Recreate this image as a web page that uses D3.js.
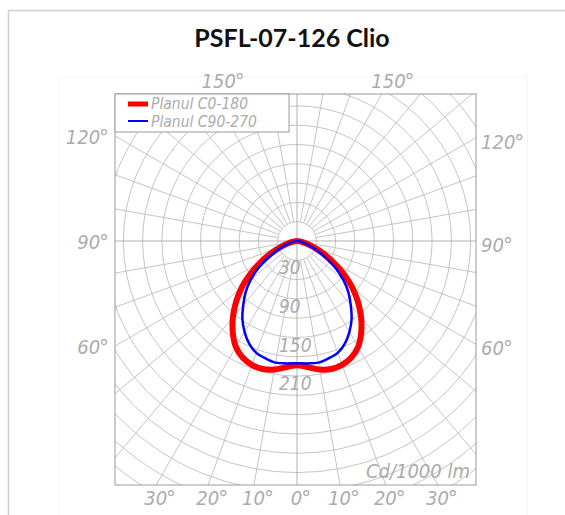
<!DOCTYPE html>
<html>
<head>
<meta charset="utf-8">
<script src="https://cdn.jsdelivr.net/npm/d3@7"></script>
<style>
  html, body { margin: 0; padding: 0; background: #fff; }
  svg { display: block; }
  .cad { font-family: "Liberation Sans Narrow", "DejaVu Sans Condensed", sans-serif; font-style: italic; fill: #ababab; }
</style>
</head>
<body>
<div id="chart"></div>
<script>
// ============================================
// POLAR LIGHT DISTRIBUTION - PSFL-07-126 Clio
// ============================================

// gamma angles (deg from nadir) and intensities (cd/1000 lm)
const gammaDeg = [0, 5, 10, 15, 20, 25, 30, 35, 40, 45, 50, 55, 60, 65, 70, 75, 80, 85, 90];
const c0_180   = [193, 197, 203, 206, 205, 200, 190, 174, 155, 134, 112, 88, 64, 44, 26, 14, 6, 2, 0];
const c90_270  = [190, 191, 192, 189, 185, 176, 163, 148, 130, 113, 94, 73, 50, 33, 20, 11, 5, 2, 0];

const ringLabels = [30, 90, 150, 210];
const bottomTicks = [-30, -20, -10, 0, 10, 20, 30];
const sideTicks = [60, 90, 120];
const topTicks = [150];
const seriesNames = ['Planul C0-180', 'Planul C90-270'];
const seriesColors = ['#ff0000', '#0000ff'];

const width = 565, height = 515;
const cx = 297, cy = 241;
const box = { x0: 115, y0: 94, x1: 476, y1: 485 };

const r = d3.scaleLinear().domain([0, 30]).range([0, 19.3]);
const rings = d3.range(30, 481, 30);
const spokes = d3.range(0, 360, 10);

const svg = d3.select('#chart').append('svg')
    .attr('width', width)
    .attr('height', height);

// card outline
svg.append('rect')
    .attr('x', 8.5).attr('y', 10.5)
    .attr('width', 600).attr('height', 540)
    .attr('fill', 'none')
    .attr('stroke', '#cfcfcf')
    .attr('stroke-width', 1.5);

// faint image frame
svg.append('rect')
    .attr('x', 58.5).attr('y', 76.5)
    .attr('width', 469).attr('height', 460)
    .attr('fill', 'none')
    .attr('stroke', '#f6f6f6');

// title
svg.append('text')
    .attr('x', 292).attr('y', 47)
    .attr('text-anchor', 'middle')
    .style('font-family', 'Lato, "Open Sans", sans-serif')
    .style('font-weight', 700)
    .style('font-size', '25px')
    .style('fill', '#111')
    .text('PSFL-07-126 Clio');

svg.append('defs').append('clipPath').attr('id', 'boxClip')
    .append('rect')
    .attr('x', box.x0).attr('y', box.y0)
    .attr('width', box.x1 - box.x0).attr('height', box.y1 - box.y0);

const grid = svg.append('g').attr('clip-path', 'url(#boxClip)');

// rings
grid.selectAll('circle.ring')
    .data(rings)
    .enter().append('circle')
    .attr('class', 'ring')
    .attr('cx', cx).attr('cy', cy)
    .attr('r', d => r(d))
    .attr('fill', 'none')
    .attr('stroke', '#bdbdbd')
    .attr('stroke-width', 0.9);

// spokes (angle from nadir)
grid.selectAll('line.spoke')
    .data(spokes)
    .enter().append('line')
    .attr('class', 'spoke')
    .attr('x1', d => cx + (d % 90 === 0 ? 0 : r(30)) * Math.sin(d * Math.PI / 180))
    .attr('y1', d => cy + (d % 90 === 0 ? 0 : r(30)) * Math.cos(d * Math.PI / 180))
    .attr('x2', d => cx + 600 * Math.sin(d * Math.PI / 180))
    .attr('y2', d => cy + 600 * Math.cos(d * Math.PI / 180))
    .attr('stroke', d => d % 90 === 0 ? '#a8a8a8' : '#bdbdbd')
    .attr('stroke-width', 0.9);

// frame
svg.append('rect')
    .attr('x', box.x0).attr('y', box.y0)
    .attr('width', box.x1 - box.x0).attr('height', box.y1 - box.y0)
    .attr('fill', 'none')
    .attr('stroke', '#9a9a9a')
    .attr('stroke-width', 1);

// ring value labels
svg.selectAll('text.ringlab')
    .data(ringLabels)
    .enter().append('text')
    .attr('class', 'cad')
    .attr('x', 279)
    .attr('y', d => cy + r(d) + 14)
    .style('font-size', '19px')
    .text(d => d);

// curves
const radial = d3.lineRadial()
    .angle(d => d.a)
    .radius(d => r(d.v))
    .curve(d3.curveCatmullRom);

function curvePoints(vals) {
    const pts = [];
    for (let i = gammaDeg.length - 1; i >= 0; i--) {
        pts.push({ a: Math.PI + gammaDeg[i] * Math.PI / 180, v: vals[i] });
    }
    for (let i = 1; i < gammaDeg.length; i++) {
        pts.push({ a: Math.PI - gammaDeg[i] * Math.PI / 180, v: vals[i] });
    }
    return pts;
}

const curves = svg.append('g').attr('transform', `translate(${cx},${cy})`);
curves.append('path')
    .attr('d', radial(curvePoints(c0_180)))
    .attr('fill', 'none')
    .attr('stroke', seriesColors[0])
    .attr('stroke-width', 6)
    .attr('stroke-linejoin', 'round');
curves.append('path')
    .attr('d', radial(curvePoints(c90_270)))
    .attr('fill', 'none')
    .attr('stroke', seriesColors[1])
    .attr('stroke-width', 2.5)
    .attr('stroke-linejoin', 'round');

// angle labels
function degLabel(sel) {
    sel.text(d => Math.abs(d))
        .append('tspan')
        .attr('dx', -1)
        .attr('dy', 1)
        .style('font-size', '22px')
        .style('font-style', 'normal')
        .text('\u00b0');
}

const bottomY = box.y1 - cy;
svg.selectAll('text.bot')
    .data(bottomTicks)
    .enter().append('text')
    .attr('class', 'cad')
    .attr('text-anchor', 'middle')
    .attr('x', d => cx + 4 + bottomY * Math.tan(d * Math.PI / 180))
    .attr('y', 505)
    .style('font-size', '20px')
    .call(degLabel);

const sideX = cx - box.x0;
svg.selectAll('text.left')
    .data(sideTicks)
    .enter().append('text')
    .attr('class', 'cad')
    .attr('text-anchor', 'end')
    .attr('x', box.x0 - 6)
    .attr('y', d => cy + sideX / Math.tan(d * Math.PI / 180) + 8)
    .style('font-size', '20px')
    .call(degLabel);

svg.selectAll('text.right')
    .data(sideTicks)
    .enter().append('text')
    .attr('class', 'cad')
    .attr('text-anchor', 'start')
    .attr('x', box.x1 + 5)
    .attr('y', d => cy + (box.x1 - cx) / Math.tan(d * Math.PI / 180) + 11)
    .style('font-size', '20px')
    .call(degLabel);

const topY = cy - box.y0;
[-1, 1].forEach(s => {
    svg.selectAll(null)
        .data(topTicks)
        .enter().append('text')
        .attr('class', 'cad')
        .attr('text-anchor', 'middle')
        .attr('x', d => cx + s * topY * Math.tan((180 - d) * Math.PI / 180) + 11)
        .attr('y', box.y0 - 6)
        .style('font-size', '20px')
        .call(degLabel);
});

// unit
svg.append('text')
    .attr('class', 'cad')
    .attr('text-anchor', 'end')
    .attr('x', 470).attr('y', 478)
    .style('font-size', '20px')
    .text('Cd/1000 lm');

// legend
const legend = svg.append('g');
legend.append('rect')
    .attr('x', box.x0).attr('y', box.y0)
    .attr('width', 174).attr('height', 38)
    .attr('fill', '#fff')
    .attr('stroke', '#9a9a9a');
seriesNames.forEach((name, i) => {
    const y = box.y0 + 10 + i * 17;
    legend.append('line')
        .attr('x1', 128).attr('x2', 148)
        .attr('y1', y).attr('y2', y)
        .attr('stroke', seriesColors[i])
        .attr('stroke-width', i === 0 ? 5 : 2);
    legend.append('text')
        .attr('class', 'cad')
        .attr('x', 151).attr('y', y + 5 + i)
        .style('font-size', '15.5px')
        .text(name);
});
</script>
</body>
</html>
